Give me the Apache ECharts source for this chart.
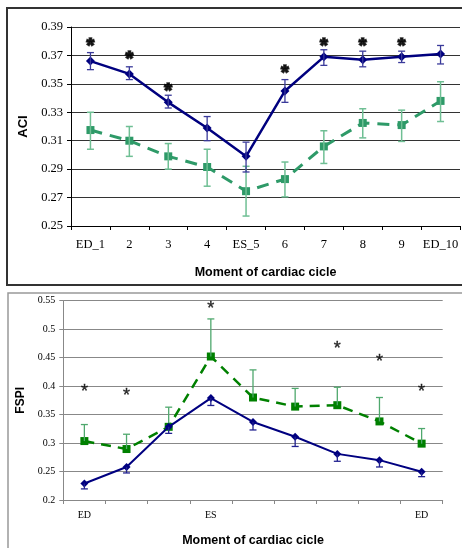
<!DOCTYPE html>
<html>
<head>
<meta charset="utf-8">
<script src="https://cdn.jsdelivr.net/npm/echarts@6/dist/echarts.min.js"></script>
<style>
html,body{margin:0;padding:0;background:#fff;}
#chart{width:462px;height:548px;}
</style>
</head>
<body>
<div id="chart"></div>
<script>
// ---- Top chart (ACI) ----
const aciCategories = ['ED_1','2','3','4','ES_5','6','7','8','9','ED_10'];
const aciBlue      = [0.366,0.357,0.337,0.319,0.299,0.345,0.369,0.367,0.369,0.371];
const aciBlueLow   = [0.360,0.353,0.333,0.310,0.288,0.337,0.363,0.362,0.365,0.364];
const aciBlueHigh  = [0.372,0.362,0.342,0.327,0.309,0.353,0.374,0.373,0.373,0.377];
const aciGreen     = [0.3175,0.310,0.299,0.2915,0.2745,0.283,0.306,0.3225,0.321,0.338];
const aciGreenLow  = [0.304,0.299,0.290,0.278,0.257,0.2705,0.294,0.312,0.3095,0.3235];
const aciGreenHigh = [0.330,0.320,0.308,0.304,0.292,0.295,0.317,0.3325,0.3315,0.3515];
const aciStarCats  = [0,1,2,5,6,7,8];
const aciStarVals  = [0.380,0.371,0.348,0.361,0.380,0.380,0.380];

// ---- Bottom chart (FSPI) ----
const fspiMoments    = ['1','2','3','4','5','6','7','8','9'];
const fspiTickLabels = ['ED','','','ES','','','','','ED'];
const fspiBlue       = [0.229,0.258,0.3285,0.379,0.337,0.311,0.281,0.270,0.2495];
const fspiBlueLow    = [0.2195,0.2475,0.317,0.366,0.323,0.294,0.268,0.258,0.241];
const fspiGreen      = [0.3035,0.2895,0.3285,0.452,0.380,0.364,0.3665,0.338,0.299];
const fspiGreenHigh  = [0.3325,0.3155,0.363,0.518,0.4285,0.396,0.398,0.380,0.3255];
const fspiStarCats   = [0,1,3,6,7,8];
const fspiStarVals   = [0.396,0.389,0.5425,0.473,0.450,0.397];

const chart = echarts.init(document.getElementById('chart'), null, {renderer:'canvas'});

function errBars(bothCaps, color, lw, capW) {
  return function (params, api) {
    const x = api.value(0), a = api.value(1), b = api.value(2);
    const pa = api.coord([x, a]), pb = api.coord([x, b]);
    const st = {stroke: color, lineWidth: lw};
    const ch = [
      {type:'line', shape:{x1:pa[0], y1:pa[1], x2:pb[0], y2:pb[1]}, style:st},
      {type:'line', shape:{x1:pb[0]-capW/2, y1:pb[1], x2:pb[0]+capW/2, y2:pb[1]}, style:st}
    ];
    if (bothCaps) ch.push({type:'line', shape:{x1:pa[0]-capW/2, y1:pa[1], x2:pa[0]+capW/2, y2:pa[1]}, style:st});
    return {type:'group', children: ch};
  };
}

const serif = '"Liberation Serif", "Times New Roman", serif';
const sans = '"Liberation Sans", Arial, sans-serif';

const option = {
  animation: false,
  backgroundColor: '#fff',
  graphic: [
    {type:'rect', shape:{x:7, y:8, width:470, height:277}, style:{fill:'none', stroke:'#333', lineWidth:2}, z:-1},
    {type:'rect', shape:{x:8, y:293, width:470, height:270}, style:{fill:'none', stroke:'#999', lineWidth:1.5}, z:-1}
  ],
  grid: [
    {left:71, top:27, width:389, height:199},
    {left:63.3, top:300.7, width:379.4, height:201.6}
  ],
  xAxis: [
    {
      type:'category', gridIndex:0, data: aciCategories, boundaryGap:true,
      axisLine:{lineStyle:{color:'#000', width:1}},
      axisTick:{show:true, interval:0, length:4, lineStyle:{color:'#000'}},
      axisLabel:{interval:0, margin:12, color:'#000', fontFamily:serif, fontSize:12.5},
      name:'Moment of cardiac cicle', nameLocation:'middle', nameGap:40,
      nameTextStyle:{fontFamily:sans, fontWeight:'bold', fontSize:12.5, color:'#000'}
    },
    {
      type:'category', gridIndex:1, data: fspiMoments, boundaryGap:true,
      axisLine:{lineStyle:{color:'#888', width:1}},
      axisTick:{show:true, interval:0, length:4, lineStyle:{color:'#888'}},
      axisLabel:{interval:0, margin:10, color:'#000', fontFamily:serif, fontSize:10,
        formatter:(v,i)=>fspiTickLabels[i]},
      name:'Moment of cardiac cicle', nameLocation:'middle', nameGap:34,
      nameTextStyle:{fontFamily:sans, fontWeight:'bold', fontSize:12.5, color:'#000'}
    }
  ],
  yAxis: [
    {
      type:'value', gridIndex:0, min:0.25, max:0.39, interval:0.02,
      axisLine:{show:true, lineStyle:{color:'#000'}},
      axisTick:{show:true, length:4, lineStyle:{color:'#000'}},
      axisLabel:{color:'#000', fontFamily:serif, fontSize:12.5, margin:8, formatter:v=>v.toFixed(2)},
      splitLine:{show:true, lineStyle:{color:'#333', width:1}},
      name:'ACI', nameLocation:'middle', nameGap:38, nameRotate:90,
      nameTextStyle:{fontFamily:sans, fontWeight:'bold', fontSize:13, color:'#000'}
    },
    {
      type:'value', gridIndex:1, min:0.2, max:0.55, interval:0.05,
      axisLine:{show:true, lineStyle:{color:'#888'}},
      axisTick:{show:true, length:4, lineStyle:{color:'#888'}},
      axisLabel:{color:'#000', fontFamily:serif, fontSize:10, margin:8,
        formatter:v=>String(parseFloat(v.toFixed(2)))},
      splitLine:{show:true, lineStyle:{color:'#888', width:1}},
      name:'FSPI', nameLocation:'middle', nameGap:33, nameRotate:90,
      nameTextStyle:{fontFamily:sans, fontWeight:'bold', fontSize:12, color:'#000'}
    }
  ],
  series: [
    // top chart
    {type:'custom', xAxisIndex:0, yAxisIndex:0, z:3,
      renderItem: errBars(true, '#6fbf94', 1.5, 7),
      data: aciGreen.map((v,i)=>[i, aciGreenLow[i], aciGreenHigh[i]])},
    {type:'line', xAxisIndex:0, yAxisIndex:0, z:2,
      data: aciGreen.map((v,i)=>[i,v]),
      symbol:'rect', symbolSize:8, itemStyle:{color:'#2e9a68'},
      lineStyle:{color:'#2e9a68', width:3, type:[12,8]}},
    {type:'custom', xAxisIndex:0, yAxisIndex:0, z:5,
      renderItem: errBars(true, '#3a3a9a', 1.3, 7),
      data: aciBlue.map((v,i)=>[i, aciBlueLow[i], aciBlueHigh[i]])},
    {type:'line', xAxisIndex:0, yAxisIndex:0, z:4,
      data: aciBlue.map((v,i)=>[i,v]),
      symbol:'diamond', symbolSize:9, itemStyle:{color:'#00007f'},
      lineStyle:{color:'#00007f', width:2.5}},
    {type:'scatter', xAxisIndex:0, yAxisIndex:0, z:6,
      data: aciStarCats.map((c,i)=>[c, aciStarVals[i]]),
      symbolSize:1, itemStyle:{color:'rgba(0,0,0,0)'},
      label:{show:true, position:'inside', formatter:'*', offset:[0,5],
        fontFamily:sans, fontWeight:'bold', fontSize:20, color:'#000',
        textBorderColor:'#000', textBorderWidth:1.6}},
    // bottom chart
    {type:'custom', xAxisIndex:1, yAxisIndex:1, z:3,
      renderItem: errBars(false, '#4fa86d', 1.3, 7),
      data: fspiGreen.map((v,i)=>[i, v, fspiGreenHigh[i]])},
    {type:'line', xAxisIndex:1, yAxisIndex:1, z:2,
      data: fspiGreen.map((v,i)=>[i,v]),
      symbol:'rect', symbolSize:8, itemStyle:{color:'#008000'},
      lineStyle:{color:'#008000', width:2.5, type:[10,7]}},
    {type:'custom', xAxisIndex:1, yAxisIndex:1, z:5,
      renderItem: errBars(false, '#20208f', 1.3, 7),
      data: fspiBlue.map((v,i)=>[i, v, fspiBlueLow[i]])},
    {type:'line', xAxisIndex:1, yAxisIndex:1, z:4,
      data: fspiBlue.map((v,i)=>[i,v]),
      symbol:'diamond', symbolSize:8, itemStyle:{color:'#000080'},
      lineStyle:{color:'#000080', width:2}},
    {type:'scatter', xAxisIndex:1, yAxisIndex:1, z:6,
      data: fspiStarCats.map((c,i)=>[c, fspiStarVals[i]]),
      symbolSize:1, itemStyle:{color:'rgba(0,0,0,0)'},
      label:{show:true, position:'inside', formatter:'*', offset:[0,4],
        fontFamily:sans, fontWeight:'normal', fontSize:18, color:'#000',
        textBorderColor:'#000', textBorderWidth:0.4}}
  ]
};
chart.setOption(option);
</script>
</body>
</html>
